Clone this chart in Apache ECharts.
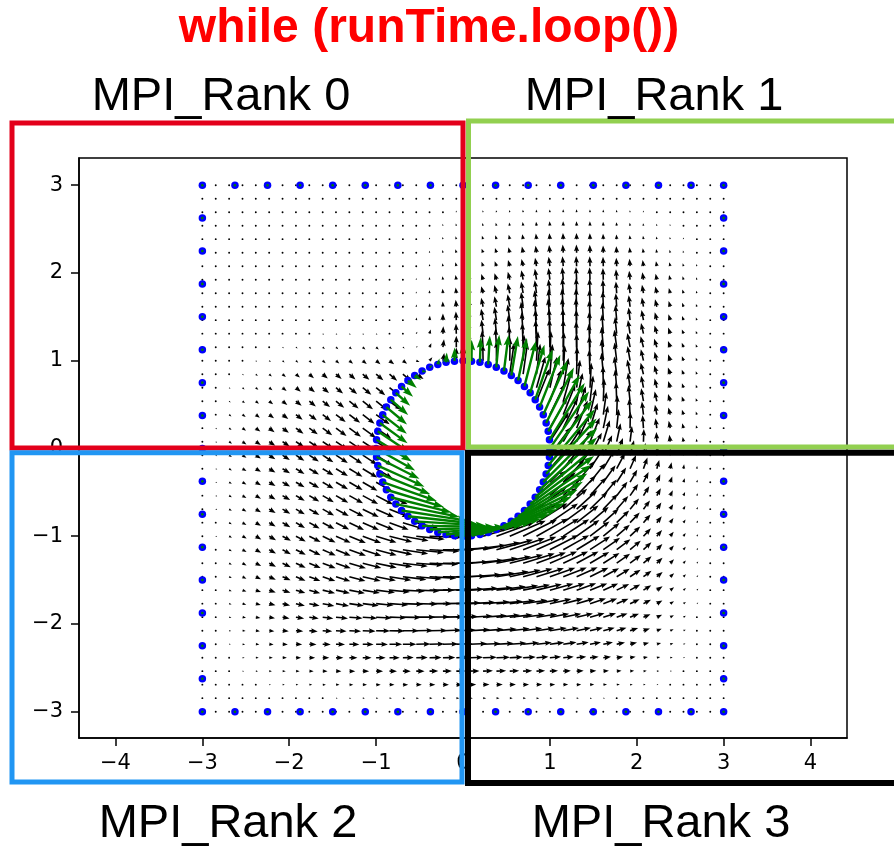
<!DOCTYPE html>
<html><head><meta charset="utf-8">
<script src="https://cdn.jsdelivr.net/npm/echarts@6/dist/echarts.min.js"></script>
<style>html,body{margin:0;padding:0;background:#fff}#c{width:894px;height:847px}</style>
</head><body><div id="c"></div>
<script>
// ---------------- data ----------------
const titleText = 'while (runTime.loop())';
const rankLabels = ['MPI_Rank 0', 'MPI_Rank 1', 'MPI_Rank 2', 'MPI_Rank 3'];
const xTicks = [-4, -3, -2, -1, 0, 1, 2, 3, 4];
const yTicks = [-3, -2, -1, 0, 1, 2, 3];

// quiver grid positions (40 x 40)
const gridX = [-3,-2.846,-2.692,-2.538,-2.385,-2.231,-2.077,-1.923,-1.769,-1.615,-1.462,-1.308,-1.154,-1,-0.846,-0.692,-0.538,-0.385,-0.231,-0.077,0.077,0.231,0.385,0.538,0.692,0.846,1,1.154,1.308,1.462,1.615,1.769,1.923,2.077,2.231,2.385,2.538,2.692,2.846,3];
const gridY = [3,2.846,2.692,2.538,2.385,2.231,2.077,1.923,1.769,1.615,1.462,1.308,1.154,1,0.846,0.692,0.538,0.385,0.231,0.077,-0.077,-0.231,-0.385,-0.538,-0.692,-0.846,-1,-1.154,-1.308,-1.462,-1.615,-1.769,-1.923,-2.077,-2.231,-2.385,-2.538,-2.692,-2.846,-3];

// arrow length (hundredths of a data unit), rows follow gridY, null = inside cylinder
const fieldLen = [
[0,0,0,0,0,0,0,0,0,0,0,0,0,0,0,0,0,0,0,0,0,0,0,0,0,0,0,0,0,0,0,0,0,0,0,0,0,0,0,0],
[0,1,1,1,1,1,1,1,1,1,1,1,1,1,1,1,1,1,1,1.2,1.2,1.2,1.2,1.2,1.2,1.2,1.2,1.2,1.2,1.2,1.2,1.2,1.2,1.2,1.2,1.2,1.2,1.2,1,0],
[0,1,1,1,1,1,1,1,1,1,1,1,1,1,1,1,1.1,1.3,1.6,2,2,2.2,2.4,2.6,2.8,3,3.2,3.3,3.3,3.2,3,2.7,2.4,2,1.7,1.4,1.1,1,0.7,0],
[0,1,1,1,1,1,1,1,1,1,1,1,1,1,1,1,1.2,1.6,2.2,2.7,2.9,3.2,3.5,3.9,4.3,4.7,5,5.2,5.2,5,4.6,4.1,3.5,3,2.4,1.9,1.5,1.1,0.8,0],
[0,1,1,1,1,1,1,1,1,1,1,1,1,1,1,1,1.3,2,2.6,3.3,3.8,4.2,4.6,5.2,5.8,6.4,6.9,7.1,7.1,6.8,6.2,5.4,4.6,3.8,3.1,2.5,1.9,1.4,0.9,0],
[0,1,1,1,1,1,1,1,1,1,1,1,1,1,1,1,1.5,2.2,3,4,4.2,4.9,5.5,6.5,7.3,8.1,8.8,9.2,9.3,9,8.3,7.3,6.2,5.1,4.2,3.3,2.5,1.8,1,0],
[0,1,1,1,1,1,1,1,1,1,1,1,1,1,1,1.2,1.8,2.5,3.5,4.5,4.6,5.3,6,7.3,8.5,9.7,10.8,11.3,11.5,11.3,10.8,9.7,8.5,7,5.8,4.6,3.5,2.5,1.5,0],
[0,1,1,1,1,1,1,1,1,1,1,1,1,1,1,1.2,2,3,4,5.5,5.8,6.8,7.8,9.3,11,12.5,13.5,14.2,14.5,14.2,13.3,11.8,10.3,8.5,7,5.5,4,2.8,1.6,0],
[0,1,1,1,1,1,1,1,1,1,1,1,1,1,1,1.2,2,3.5,5,6.5,7,8.3,9.6,11.5,13.5,15,16,17.3,17.5,16.8,15.5,13.5,11.8,9.8,8,6.2,4.5,3,1.7,0],
[0,1,1,1,1,1,1,1,1,1,1,1,1,1,1,1.5,2.5,4,6,8,9,10.5,12.3,14.5,17,19,20.3,21,21,19.8,18,15.5,13.2,10.8,8.7,6.7,4.8,3.2,1.8,0],
[0,1,1,1,1,1,1,1,1,1,1,1,1,1,1,1.5,3,5,7.5,10,11.5,13.3,15.4,18,21,23.5,24.8,25.3,25,23,20.5,17.5,14.6,11.8,9.3,7,5,3.3,1.8,0],
[0,1,1,1,1,1,1.2,1.5,1.8,2,2,2,2,2,1.5,1.2,2.5,5,8.5,11.5,14,16,18.3,21.3,24.5,27.5,28.7,28.7,27.5,25.2,22.3,19,15.8,12.5,9.8,7.3,5.2,3.4,1.8,0],
[0,1,1,1,1.5,1.8,2,2.5,3,3.2,3.5,3.8,4,4,3.5,2.5,2,5,9,13,17,19,21.3,24,27.5,31,32,31.5,29.5,26.8,23.5,20,16.5,13,10.2,7.5,5.3,3.5,1.8,0],
[0,1,1,1.5,2,2.5,3,3.5,4,4.5,5,5.5,6,6.5,6.8,6,4,5,9,15,16,18.5,22,26,30,33.5,34,33,31,28,24.5,20.8,17,13.5,10.5,7.7,5.4,3.5,1.8,0],
[0,1,1.5,2,3,4,5,6,7,7.7,8.5,9.2,10,10.8,11.5,12,10,null,null,null,null,null,null,36,36,35,34.5,33,31,28,24.5,20.5,17,13.5,10.5,8,5.5,3.5,1.8,0],
[0,1,2,3,3.8,4.8,6,7.2,8.3,9.4,10.5,11.5,12.7,13.5,14.6,null,null,null,null,null,null,null,null,null,null,37,36,34.5,32,28.5,25,21,17.5,14,10.8,8,5.5,3.5,1.8,0],
[0,1.2,2.3,3.5,4.6,5.8,7,8.3,9.6,10.8,12,13.5,15,16,17,null,null,null,null,null,null,null,null,null,null,40,38,36,33,29.5,26,22,18.5,15,11.5,8.5,5.8,3.7,1.8,0],
[0,1.8,3.3,4.6,5.8,7,8.3,9.6,10.8,12,14,15.5,17,19,null,null,null,null,null,null,null,null,null,null,null,null,39,37,34,30,26,22,18.5,15,11.5,8.5,5.8,3.7,1.8,0],
[0,2,3.5,5,6.5,7.7,9,10.8,12,13.5,15,16.5,19,21,null,null,null,null,null,null,null,null,null,null,null,null,40,37.5,34,30,26,22,18.5,15,11.5,8.5,5.8,3.6,1.8,0],
[0,2,4,5.5,7,8.5,10,11.5,13,14.6,16,17.5,19.5,21.5,null,null,null,null,null,null,null,null,null,null,null,null,40,37,33.5,29.5,25.5,21.5,18,14.5,11,8,5.5,3.5,1.7,0],
[0,2,3.8,5.4,7,8.5,10,11.6,13.1,14.7,16.2,17.8,19.8,22,null,null,null,null,null,null,null,null,null,null,null,null,40,36.5,33,29,25,21,17.5,14,10.5,7.7,5.2,3.3,1.6,0],
[0,2,3.7,5.3,6.9,8.4,10,11.5,13,14.5,16,17.6,19.5,21.5,null,null,null,null,null,null,null,null,null,null,null,null,40,36,32.5,28.5,24.5,20.5,17,13.5,10.2,7.4,5,3.2,1.5,0],
[0,1.9,3.6,5.2,6.9,8.4,10,11.5,13,14.5,16,17.6,19.5,21.5,null,null,null,null,null,null,null,null,null,null,null,null,40,36,32,28,24,20,16.5,13,9.8,7,4.8,3,1.5,0],
[0,1.9,3.6,5.2,6.9,8.5,10.1,11.7,13.2,14.8,16.3,18,20,22,23,null,null,null,null,null,null,null,null,null,null,44,40,36,32,28,24,20,16.3,12.7,9.5,6.8,4.6,2.9,1.4,0],
[0,1.9,3.6,5.2,6.9,8.6,10.2,11.8,13.4,15,16.7,18.5,20.5,22.5,24,null,null,null,null,null,null,null,null,null,null,43,40,36,32,28,24,20,16,12.5,9.3,6.6,4.5,2.8,1.3,0],
[0,1.8,3.5,5.2,6.9,8.6,10.3,12,13.6,15.3,17,18.8,20.5,22,23.5,25,26,null,null,null,null,null,null,46,44,42,39,35.5,32,28,24,20,16,12.5,9.2,6.5,4.4,2.7,1.3,0],
[0,1.9,3.7,5.5,7.3,9.1,11,12.8,14.6,16.5,18.5,20.5,22.5,24.5,27,30,33,37,40,42,46,46,46,45,43.5,41.5,39,35.5,32,28,24,20,16,12.5,9.2,6.5,4.3,2.6,1.2,0],
[0,1.8,3.6,5.4,7.2,9,10.9,12.7,14.5,16.4,18.3,20.3,22.5,24.5,27,29.5,32,34.5,37,40,42,43.5,43.5,42.5,41,39,37,34,31,27.5,23.5,19.8,16,12.5,9.2,6.4,4.2,2.5,1.2,0],
[0,1.8,3.5,5.3,7,8.8,10.6,12.4,14.2,16,18,20,22,24.2,26.5,28.8,31,33,35,37,39,40.5,40.5,39.5,38,36,34,31.5,28.5,25.5,22,18.8,15.5,12.2,9,6.3,4.1,2.4,1.1,0],
[0,1.7,3.4,5,6.7,8.4,10.1,11.9,13.6,15.4,17.3,19.2,21.2,23.2,25.3,27.3,29.3,31,32.5,34,36,37,37.5,36.5,35,33,31,29,26.5,23.5,20.5,17.5,14.5,11.5,8.6,6,3.9,2.3,1.1,0],
[0,1.6,3.2,4.8,6.4,8,9.6,11.3,13,14.7,16.4,18.2,20,21.8,23.6,25.3,27,28.5,29.7,31.5,32.5,34,34,33,31.5,30,28,26,23.8,21.3,18.7,16,13.3,10.6,8,5.6,3.7,2.2,1,0],
[0,1.5,3,4.5,6,7.5,9,10.6,12.1,13.7,15.3,16.9,18.5,20.1,21.7,23.2,24.6,25.8,26.8,28,29.5,30.5,30.5,29.5,28.3,27,25.3,23.5,21.5,19.3,17,14.6,12.2,9.8,7.4,5.2,3.4,2,1,0],
[0,1.4,2.7,4.1,5.4,6.8,8.2,9.6,11,12.4,13.9,15.3,16.7,18.1,19.5,20.8,22,23,23.9,25,26.5,27.5,27.3,26.5,25.3,24,22.5,21,19.2,17.3,15.3,13.2,11,8.8,6.7,4.8,3.1,1.8,0.9,0],
[0,1.2,2.4,3.6,4.8,6,7.2,8.5,9.7,11,12.2,13.5,14.8,16,17.3,18.4,19.4,20.3,21,22.5,23.5,24,23.5,23,22,21,19.7,18.3,16.8,15.2,13.5,11.7,9.8,7.9,6,4.3,2.8,1.6,0.8,0],
[0,1,2,3,4.1,5.1,6.1,7.2,8.3,9.3,10.4,11.5,12.5,13.6,14.6,15.5,16.3,17,17.6,18.5,20,20.2,19.8,19.3,18.5,17.6,16.5,15.4,14.1,12.8,11.3,9.8,8.2,6.6,5.1,3.7,2.4,1.4,0.7,0],
[0,0.8,1.7,2.5,3.4,4.2,5,5.9,6.7,7.6,8.5,9.3,10.2,11,11.8,12.5,13.2,13.8,14.2,14.8,15.5,15.8,15.5,15.1,14.5,13.8,13,12.1,11.1,10,8.9,7.7,6.5,5.2,4,2.9,1.9,1.1,0.6,0],
[0,0.6,1.3,1.9,2.5,3.1,3.7,4.3,5,5.6,6.2,6.8,7.4,8,8.6,9.1,9.6,10,10.3,10.7,11.2,11.4,11.2,10.9,10.5,10,9.4,8.8,8.1,7.3,6.5,5.6,4.7,3.8,2.9,2.1,1.4,0.8,0.4,0],
[0,0.4,0.9,1.3,1.7,2.1,2.5,2.9,3.3,3.7,4.1,4.5,4.9,5.3,5.7,6.1,6.4,6.7,6.9,7.2,7.5,7.4,7.3,7.1,6.8,6.5,6.1,5.7,5.3,4.8,4.3,3.7,3.1,2.5,1.9,1.4,0.9,0.5,0.3,0],
[0,0.2,0.4,0.6,0.8,1,1.2,1.4,1.6,1.8,2,2.2,2.4,2.6,2.8,3,3.1,3.3,3.4,3.5,3.6,3.6,3.5,3.4,3.3,3.1,2.9,2.7,2.5,2.3,2,1.8,1.5,1.2,0.9,0.7,0.4,0.3,0.1,0],
[0,0,0,0,0,0,0,0,0,0,0,0,0,0,0,0,0,0,0,0,0,0,0,0,0,0,0,0,0,0,0,0,0,0,0,0,0,0,0,0]
];

// arrow direction (degrees, 0 = +x, 90 = +y), same layout as fieldLen
const fieldAng = [
[0,0,0,0,0,0,0,0,0,0,0,0,0,0,0,0,0,0,0,0,0,0,0,0,0,0,0,0,0,0,0,0,0,0,0,0,0,0,0,0],
[0,-40,-40,-40,-40,-40,-40,-40,-40,-40,-40,-40,-40,-40,-40,-40,95,95,95,95,95,95,95,95,95,95,95,95,95,95,95,95,95,95,95,95,95,95,95,0],
[0,-40,-40,-40,-40,-40,-40,-40,-40,-40,-40,-40,-40,-40,-40,-40,95,95,95,95,105,105,102,100,97,95,93,92,92,92,93,94,96,98,100,100,100,100,100,0],
[0,-40,-40,-40,-40,-40,-40,-40,-40,-40,-40,-40,-40,-40,-40,-40,85,92,98,102,108,107,104,101,98,96,94,92,92,92,93,95,97,99,101,102,103,104,104,0],
[0,-40,-40,-40,-40,-40,-40,-40,-40,-40,-40,-40,-40,-40,-40,-40,88,95,100,105,110,109,107,103,100,97,95,93,92,92,93,94,96,98,100,102,104,105,105,0],
[0,-40,-40,-40,-40,-40,-40,-40,-40,-40,-40,-40,-40,-40,-40,-40,88,95,100,105,110,110,108,104,101,98,96,94,92,92,92,94,96,99,101,103,105,106,106,0],
[0,-40,-40,-40,-40,-40,-40,-40,-40,-40,-40,-40,-40,-40,-40,85,90,95,100,104,110,110,110,106,103,100,98,95,93,92,92,93,95,98,100,103,105,107,107,0],
[0,-40,-40,-40,-40,-40,-40,-40,-40,-40,-40,-40,-40,-40,-40,85,90,94,97,100,108,108,107,104,101,99,97,95,93,92,92,94,96,99,102,104,106,108,108,0],
[0,-40,-40,-40,-40,-40,-40,-40,-40,-40,-40,-40,-40,-40,-40,85,90,92,95,97,105,105,105,102,100,98,96,94,92,92,92,94,97,100,103,105,108,109,110,0],
[0,-40,-40,-40,-40,-40,-40,-40,-40,-40,-40,-40,-40,-40,-40,80,85,88,92,95,102,102,101,100,98,97,95,94,92,92,92,94,97,100,104,106,109,110,111,0],
[0,-40,-40,-40,-40,-40,-40,-40,-40,-40,-40,-40,-40,-40,-40,70,80,85,90,93,100,100,99,98,97,96,95,93,92,92,93,95,97,101,105,107,110,111,112,0],
[0,-40,-40,-40,-40,-40,-40,-40,-40,-40,-40,-40,-40,-40,-40,0,60,75,87,92,98,97,96,95,94,93,92,91,91,92,94,96,99,103,106,109,111,112,112,0],
[0,-40,-40,-40,-40,-40,-40,-40,-40,-40,-40,-40,-40,-40,-38,-35,20,65,82,90,95,94,93,92,92,92,91,90,91,93,95,98,101,105,108,110,112,112,112,0],
[0,-40,-40,-40,-40,-40,-40,-40,-40,-40,-40,-40,-40,-40,-38,-36,-20,50,80,90,92,91,90,89,88,87,88,89,90,92,95,97,100,103,105,108,110,111,112,0],
[0,-40,-40,-40,-40,-40,-40,-40,-40,-40,-40,-40,-40,-40,-40,-39,-33,null,null,null,null,null,null,82,82,83,85,87,89,92,95,98,101,104,107,109,111,112,113,0],
[0,-39,-39,-39,-39,-39,-39,-39,-39,-39,-39,-39,-39,-39,-38,null,null,null,null,null,null,null,null,null,null,74,77,80,83,87,91,95,98,101,104,107,109,111,112,0],
[0,-38,-38,-38,-38,-38,-38,-38,-38,-38,-38,-38,-38,-38,-36,null,null,null,null,null,null,null,null,null,null,68,70,74,78,83,88,92,96,100,103,107,110,111,112,0],
[0,-37,-37,-37,-37,-37,-37,-37,-37,-37,-37,-37,-37,-35,null,null,null,null,null,null,null,null,null,null,null,null,64,68,72,77,82,88,93,97,101,105,108,110,110,0],
[0,-36,-36,-36,-36,-36,-36,-36,-36,-36,-36,-36,-36,-34,null,null,null,null,null,null,null,null,null,null,null,null,60,64,68,73,78,84,89,94,98,102,105,107,108,0],
[0,-34,-34,-34,-34,-34,-34,-34,-34,-34,-34,-33,-33,-32,null,null,null,null,null,null,null,null,null,null,null,null,57,60,64,68,73,78,83,88,93,97,100,103,104,0],
[0,-33,-33,-33,-33,-33,-33,-33,-33,-33,-33,-33,-33,-32,null,null,null,null,null,null,null,null,null,null,null,null,53,56,59,62,66,70,75,80,85,90,94,97,98,0],
[0,-31,-31,-31,-31,-31,-31,-31,-31,-31,-31,-31,-31,-30,null,null,null,null,null,null,null,null,null,null,null,null,49,51,53,56,59,62,66,70,74,78,82,85,86,0],
[0,-30,-30,-30,-30,-30,-30,-30,-30,-30,-30,-30,-30,-29,null,null,null,null,null,null,null,null,null,null,null,null,45,47,49,51,54,57,60,63,66,70,73,76,77,0],
[0,-30,-30,-30,-30,-30,-30,-30,-30,-30,-30,-29,-28,-27,-25,null,null,null,null,null,null,null,null,null,null,40,42,44,46,48,50,52,55,58,61,64,67,70,71,0],
[0,-30,-30,-30,-30,-30,-30,-30,-30,-29,-28,-27,-26,-24,-22,null,null,null,null,null,null,null,null,null,null,36,38,40,42,44,46,48,50,53,56,59,62,65,66,0],
[0,-30,-30,-30,-30,-30,-30,-30,-29,-28,-27,-26,-24,-22,-20,-17,-14,null,null,null,null,null,null,28,30,32,34,36,38,40,42,44,46,49,52,55,58,60,61,0],
[0,-30,-30,-30,-30,-30,-29,-28,-27,-26,-24,-22,-20,-17,-14,-10,-6,-2,2,6,12,16,20,23,26,29,31,33,35,37,39,41,43,46,49,52,55,57,58,0],
[0,-30,-30,-30,-30,-29,-28,-27,-26,-24,-22,-20,-18,-15,-12,-9,-6,-3,0,3,7,11,15,18,21,24,27,29,31,33,35,37,40,43,46,49,52,54,55,0],
[0,-29,-29,-28,-28,-27,-26,-25,-23,-21,-19,-17,-14,-12,-9,-7,-4,-2,0,2,5,8,11,14,17,20,23,25,28,30,32,35,37,40,43,46,49,51,52,0],
[0,-27,-27,-26,-25,-24,-23,-22,-21,-19,-17,-15,-13,-11,-9,-7,-5,-3,-1,1,4,6,9,12,15,17,19,21,24,26,28,31,33,36,39,42,45,47,48,0],
[0,-22,-21,-20,-20,-19,-18,-17,-16,-14,-12,-11,-9,-7,-5,-3,-2,0,1,2,4,5,7,9,11,13,15,17,19,21,24,26,29,32,34,37,40,42,43,0],
[0,-17,-16,-16,-15,-15,-14,-13,-12,-11,-10,-8,-7,-5,-4,-2,-1,0,1,2,3,4,5,7,8,10,12,14,16,18,20,22,25,27,30,32,35,37,38,0],
[0,-12,-11,-11,-10,-10,-10,-9,-8,-7,-6,-5,-4,-3,-2,-1,0,1,1,2,3,4,5,6,7,8,10,11,13,15,17,19,21,23,25,27,29,31,32,0],
[0,-7,-7,-7,-7,-6,-6,-5,-5,-4,-3,-3,-2,-1,-1,0,1,1,2,2,3,4,5,6,7,8,9,10,11,13,14,16,18,19,21,23,24,25,25,0],
[0,-4,-4,-4,-4,-3,-3,-3,-2,-2,-2,-1,-1,-1,0,0,1,1,1,2,2,2,3,4,5,6,7,8,9,10,11,12,13,14,15,16,17,18,18,0],
[0,-2,-2,-2,-2,-2,-1,-1,-1,-1,-1,0,0,0,0,1,1,1,1,2,2,2,2,3,3,4,5,5,6,7,7,8,9,9,10,10,11,11,11,0],
[0,-1,-1,-1,-1,-1,-1,-1,-1,-1,-1,0,0,0,0,0,0,1,1,1,1,2,2,2,2,3,3,3,3,4,4,4,5,5,5,6,6,6,6,0],
[0,0,0,0,0,0,0,0,0,0,0,0,0,0,0,0,0,0,0,0,1,1,1,1,1,1,1,1,1,1,2,2,2,2,2,2,2,2,2,0],
[0,0,0,0,0,0,0,0,0,0,0,0,0,0,0,0,0,0,0,0,0,0,0,0,0,0,0,0,0,0,0,0,0,0,0,0,0,0,0,0],
[0,0,0,0,0,0,0,0,0,0,0,0,0,0,0,0,0,0,0,0,0,0,0,0,0,0,0,0,0,0,0,0,0,0,0,0,0,0,0,0]
];

// boundary points: outer square (tick positions along each side) and cylinder
const squareTicks = [-3,-2.625,-2.25,-1.875,-1.5,-1.125,-0.75,-0.375,0,0.375,0.75,1.125,1.5,1.875,2.25,2.625,3];
const circleX = [1,0.995,0.981,0.957,0.924,0.882,0.831,0.773,0.707,0.634,0.556,0.471,0.383,0.29,0.195,0.098,0,-0.098,-0.195,-0.29,-0.383,-0.471,-0.556,-0.634,-0.707,-0.773,-0.831,-0.882,-0.924,-0.957,-0.981,-0.995,-1,-0.995,-0.981,-0.957,-0.924,-0.882,-0.831,-0.773,-0.707,-0.634,-0.556,-0.471,-0.383,-0.29,-0.195,-0.098,0,0.098,0.195,0.29,0.383,0.471,0.556,0.634,0.707,0.773,0.831,0.882,0.924,0.957,0.981,0.995];
const circleY = [0,0.098,0.195,0.29,0.383,0.471,0.556,0.634,0.707,0.773,0.831,0.882,0.924,0.957,0.981,0.995,1,0.995,0.981,0.957,0.924,0.882,0.831,0.773,0.707,0.634,0.556,0.471,0.383,0.29,0.195,0.098,0,-0.098,-0.195,-0.29,-0.383,-0.471,-0.556,-0.634,-0.707,-0.773,-0.831,-0.882,-0.924,-0.957,-0.981,-0.995,-1,-0.995,-0.981,-0.957,-0.924,-0.882,-0.831,-0.773,-0.707,-0.634,-0.556,-0.471,-0.383,-0.29,-0.195,-0.098];
// boundary velocity on the cylinder (data units)
const greenU = [0.45,0.406,0.362,0.319,0.278,0.238,0.2,0.165,0.132,0.102,0.076,0.053,0.034,0.019,0.009,0.002,0,0.002,0.009,0.019,0.034,0.053,0.076,0.102,0.132,0.165,0.2,0.238,0.278,0.319,0.362,0.406,0.45,0.494,0.538,0.581,0.622,0.662,0.7,0.735,0.768,0.798,0.824,0.847,0.866,0.881,0.891,0.898,0.9,0.898,0.891,0.881,0.866,0.847,0.824,0.798,0.768,0.735,0.7,0.662,0.622,0.581,0.538,0.494];
const greenV = [0.65,0.648,0.641,0.631,0.616,0.597,0.574,0.548,0.518,0.486,0.45,0.412,0.372,0.331,0.288,0.244,0.2,0.156,0.112,0.069,0.028,-0.012,-0.05,-0.085,-0.118,-0.148,-0.174,-0.197,-0.216,-0.231,-0.241,-0.248,-0.25,-0.248,-0.241,-0.231,-0.216,-0.197,-0.174,-0.148,-0.118,-0.085,-0.05,-0.012,0.028,0.069,0.112,0.156,0.2,0.244,0.288,0.331,0.372,0.412,0.45,0.486,0.518,0.548,0.574,0.597,0.616,0.631,0.641,0.648];

// ---------------- build series data ----------------
const blackData = [];
for (let j = 0; j < gridY.length; j++) {
  for (let i = 0; i < gridX.length; i++) {
    const L = fieldLen[j][i], A = fieldAng[j][i];
    if (L === null || A === null) continue;
    const r = A * Math.PI / 180;
    blackData.push([gridX[i], gridY[j], L / 100 * Math.cos(r), L / 100 * Math.sin(r)]);
  }
}
const squarePts = [];
const n = squareTicks.length;
for (let k = 0; k < n; k++) {
  squarePts.push([squareTicks[k], squareTicks[0]]);
  squarePts.push([squareTicks[k], squareTicks[n - 1]]);
  if (k > 0 && k < n - 1) {
    squarePts.push([squareTicks[0], squareTicks[k]]);
    squarePts.push([squareTicks[n - 1], squareTicks[k]]);
  }
}
const circlePts = circleX.map((x, k) => [x, circleY[k]]);
const blueData = squarePts.concat(circlePts);
const greenData = squarePts.map(p => [p[0], p[1], 0, 0])
  .concat(circlePts.map((p, k) => [p[0], p[1], greenU[k], greenV[k]]));

// matplotlib-like quiver arrow (shaft width w, head width hw*w, head length hl*w, notch ha*w)
function arrowRenderer(w, hw, hl, ha, color, dotR) {
  return function (params, api) {
    const x = api.value(0), y = api.value(1), u = api.value(2), v = api.value(3);
    const p0 = api.coord([x, y]);
    const p1 = api.coord([x + u, y + v]);
    const dx = p1[0] - p0[0], dy = p1[1] - p0[1];
    const len = Math.hypot(dx, dy);
    if (len < w) {
      return { type: 'circle', shape: { cx: p0[0], cy: p0[1], r: dotR }, style: { fill: color } };
    }
    const ux = dx / len, uy = dy / len, nx = -uy, ny = ux;
    const minsh = hl * w;
    let L = len, s = 1;
    if (len < minsh) { L = minsh; s = len / minsh; }
    const local = [[0, -w / 2], [L - ha * w, -w / 2], [L - hl * w, -hw * w / 2], [L, 0],
                   [L - hl * w, hw * w / 2], [L - ha * w, w / 2], [0, w / 2]];
    const pts = local.map(([a, b]) => [p0[0] + (a * ux + b * nx) * s, p0[1] + (a * uy + b * ny) * s]);
    return { type: 'polygon', shape: { points: pts }, style: { fill: color } };
  };
}

const fmt = v => (v < 0 ? '\u2212' + Math.abs(v) : String(v));
const tickFont = { fontFamily: 'DejaVu Sans', fontSize: 21, color: '#000' };

const chart = echarts.init(document.getElementById('c'), null, { renderer: 'canvas' });
chart.setOption({
  animation: false,
  backgroundColor: '#fff',
  grid: { left: 79, top: 158, width: 768, height: 580, show: true, borderColor: '#000', borderWidth: 1.5, backgroundColor: 'transparent' },
  xAxis: {
    type: 'value', min: -4.42, max: 4.42,
    splitLine: { show: false },
    axisLine: { show: true, onZero: false, lineStyle: { color: '#000', width: 1.5 } },
    axisTick: { show: true, customValues: xTicks, length: 8, lineStyle: { color: '#000', width: 1.5 } },
    axisLabel: Object.assign({ show: true, customValues: xTicks, formatter: fmt, margin: 15 }, tickFont)
  },
  yAxis: {
    type: 'value', min: -3.3, max: 3.31,
    splitLine: { show: false },
    axisLine: { show: true, onZero: false, lineStyle: { color: '#000', width: 1.5 } },
    axisTick: { show: true, customValues: yTicks, length: 8, lineStyle: { color: '#000', width: 1.5 } },
    axisLabel: Object.assign({ show: true, customValues: yTicks, formatter: fmt, margin: 16 }, tickFont)
  },
  series: [
    { type: 'custom', name: 'field', data: blackData, renderItem: arrowRenderer(1.6, 3.2, 4.2, 3.7, '#000', 0.95),
      encode: { x: 0, y: 1 }, clip: false, progressive: 0, z: 2, silent: true },
    { type: 'scatter', name: 'boundary', data: blueData, symbol: 'circle', symbolSize: 7.5,
      itemStyle: { color: '#0000ff', opacity: 1 }, z: 3, silent: true },
    { type: 'custom', name: 'boundaryVelocity', data: greenData, renderItem: arrowRenderer(2.4, 3, 4.5, 4, '#008000', 1.3),
      encode: { x: 0, y: 1 }, clip: false, progressive: 0, z: 4, silent: true }
  ],
  graphic: [
    { type: 'rect', z: 100, shape: { x: 12, y: 123, width: 451, height: 325 }, style: { fill: 'none', stroke: '#e3001b', lineWidth: 5 } },
    { type: 'rect', z: 100, shape: { x: 468.5, y: 121, width: 440, height: 326 }, style: { fill: 'none', stroke: '#92d050', lineWidth: 5 } },
    { type: 'rect', z: 101, shape: { x: 12, y: 452.7, width: 450, height: 329.3 }, style: { fill: 'none', stroke: '#2196f3', lineWidth: 5 } },
    { type: 'rect', z: 101, shape: { x: 468, y: 452.7, width: 440, height: 330.3 }, style: { fill: 'none', stroke: '#000', lineWidth: 6 } },
    { type: 'text', z: 102, x: 429, y: 28.5, style: { text: titleText, fill: '#ff0000', fontSize: 48, fontWeight: 'bold', fontFamily: 'Liberation Sans', align: 'center', verticalAlign: 'middle' } },
    { type: 'text', z: 102, x: 221, y: 97.5, style: { text: rankLabels[0], fill: '#000', fontSize: 47, fontFamily: 'Liberation Sans', align: 'center', verticalAlign: 'middle' } },
    { type: 'text', z: 102, x: 654, y: 97.5, style: { text: rankLabels[1], fill: '#000', fontSize: 47, fontFamily: 'Liberation Sans', align: 'center', verticalAlign: 'middle' } },
    { type: 'text', z: 102, x: 228, y: 824.5, style: { text: rankLabels[2], fill: '#000', fontSize: 47, fontFamily: 'Liberation Sans', align: 'center', verticalAlign: 'middle' } },
    { type: 'text', z: 102, x: 661, y: 824.5, style: { text: rankLabels[3], fill: '#000', fontSize: 47, fontFamily: 'Liberation Sans', align: 'center', verticalAlign: 'middle' } }
  ]
});
</script>
</body></html>
